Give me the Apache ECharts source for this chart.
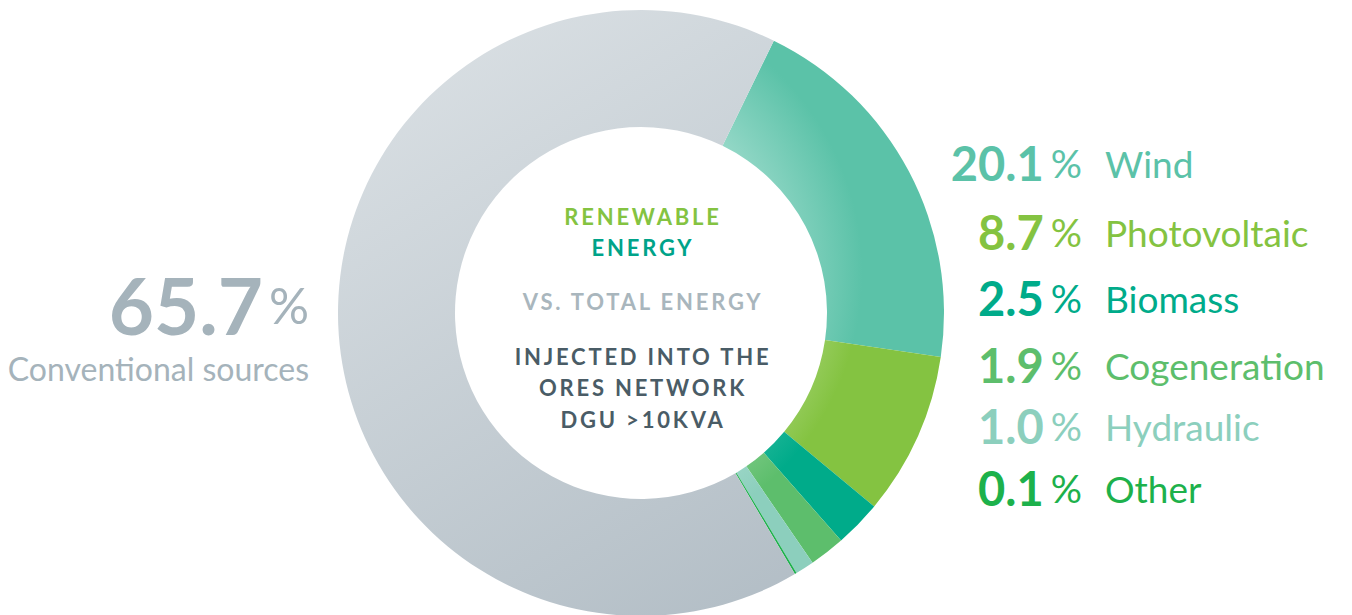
<!DOCTYPE html>
<html>
<head>
<meta charset="utf-8">
<script src="https://cdn.jsdelivr.net/npm/echarts@6/dist/echarts.min.js"></script>
<style>
  html, body { margin: 0; padding: 0; background: #ffffff; }
  #chart { width: 1352px; height: 615px; }
</style>
</head>
<body>
<div id="chart"></div>
<script>
// 数据
const categories = ['Wind', 'Photovoltaic', 'Biomass', 'Cogeneration', 'Hydraulic', 'Other', 'Conventional sources'];
const values = [20.1, 8.7, 2.5, 1.9, 1.0, 0.1, 65.7];
const colors = ['#5bc2a8', '#84c341', '#00ab8a', '#5dbe6c', '#8ccfbd', '#1db14b', '#c3ccd2'];
const lightColors = ['#9fdccd', '#bde09a', '#52c8ae', '#a3d9a9', '#b9e3d8', '#66cc88', '#dde3e6'];
const centerLines = [
  { text: 'RENEWABLE', color: '#84c341' },
  { text: 'ENERGY', color: '#00a389' },
  { text: 'VS. TOTAL ENERGY', color: '#a9b6bd' },
  { text: 'INJECTED INTO THE', color: '#4a5c66' },
  { text: 'ORES NETWORK', color: '#4a5c66' },
  { text: 'DGU >10KVA', color: '#4a5c66' }
];

const cx = 641, cy = 313, r0 = 186, r1 = 303;
const font = 'Lato, "Noto Sans", sans-serif';

const chart = echarts.init(document.getElementById('chart'), null, { renderer: 'svg' });

// 扇区渐变
const sliceColor = (i) => {
  if (i === 6) {
    return {
      type: 'linear', x: 420, y: 40, x2: 760, y2: 610, global: true,
      colorStops: [{ offset: 0, color: '#d9dfe3' }, { offset: 1, color: '#b3bec6' }]
    };
  }
  return {
    type: 'radial', x: cx - 60, y: cy - 40, r: r1 + 40, global: true,
    colorStops: [
      { offset: 0, color: lightColors[i] },
      { offset: 0.5, color: lightColors[i] },
      { offset: 0.82, color: colors[i] },
      { offset: 1, color: colors[i] }
    ]
  };
};

const rowY = [162, 231, 297, 364, 425, 487];
const graphics = [];

// 右侧标签
for (let i = 0; i < 6; i++) {
  graphics.push({
    type: 'text', x: 1082, y: rowY[i] + 1,
    style: {
      text: '{n|' + values[i].toFixed(1) + '}{p|%}',
      align: 'right', verticalAlign: 'middle',
      rich: {
        n: { font: 'bold 47px ' + font, fill: colors[i], padding: [0, 7, 0, 0] },
        p: { font: '39px ' + font, fill: colors[i] }
      }
    }
  });
  graphics.push({
    type: 'text', x: 1105, y: rowY[i] + 1,
    style: { text: categories[i], font: '37px ' + font, fill: colors[i], align: 'left', verticalAlign: 'middle' }
  });
}

// 左侧标签
graphics.push({
  type: 'text', x: 309, y: 305,
  style: {
    text: '{n|' + values[6].toFixed(1) + '}{p|%}',
    align: 'right', verticalAlign: 'middle',
    rich: {
      n: { font: 'bold 78px ' + font, fill: '#a5b3bb', padding: [0, 6, 0, 0] },
      p: { font: '50px ' + font, fill: '#a5b3bb' }
    }
  }
});
graphics.push({
  type: 'text', x: 309, y: 368,
  style: { text: 'Conventional sources', font: '32px ' + font, fill: '#a5b3bb', align: 'right', verticalAlign: 'middle' }
});

// 中心文字
const centerY = [216, 247, 301, 356, 387, 419];
centerLines.forEach((l, i) => {
  graphics.push({
    type: 'text', x: cx + 2, y: centerY[i],
    style: { text: l.text, font: 'bold 22px ' + font, fill: l.color, align: 'center', verticalAlign: 'middle' }
  });
});

const option = {
  animation: false,
  series: [{
    type: 'pie',
    center: [cx, cy],
    radius: [r0, r1],
    startAngle: 64,
    clockwise: true,
    silent: true,
    label: { show: false },
    labelLine: { show: false },
    itemStyle: { borderWidth: 0 },
    data: categories.map((c, i) => ({ name: c, value: values[i], itemStyle: { color: sliceColor(i) } }))
  }],
  graphic: graphics
};

chart.setOption(option);

// 字母间距
const spaced = centerLines.map(l => l.text);
document.querySelectorAll('#chart text').forEach(t => {
  if (spaced.includes(t.textContent)) t.setAttribute('letter-spacing', '2.8');
});
</script>
</body>
</html>
